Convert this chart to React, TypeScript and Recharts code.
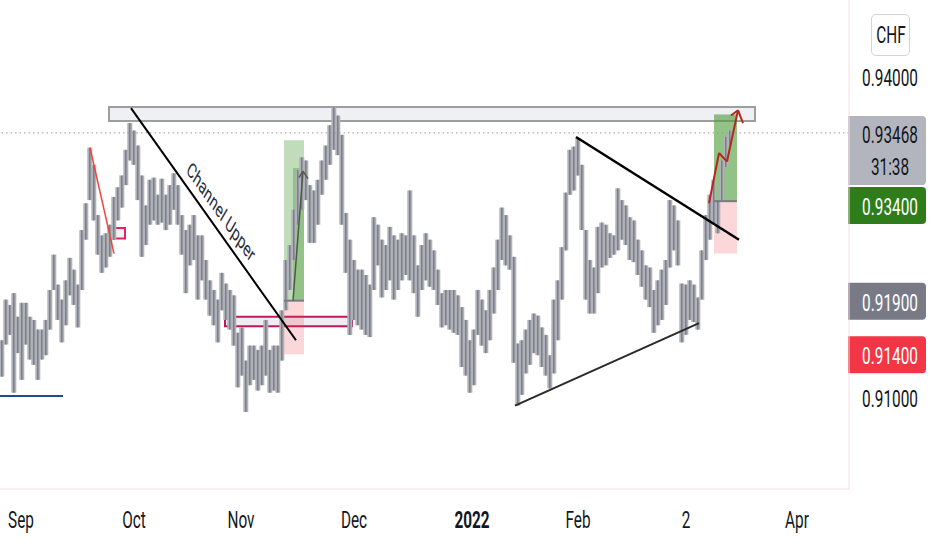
import React from "react";
import {
  ComposedChart,
  Bar,
  XAxis,
  YAxis,
  ReferenceLine,
  ReferenceArea,
  ReferenceDot,
} from "recharts";

// USD/CHF candles, one high/low bucket per ~4px column
const highs = [
  0.9153, 0.9191, 0.9186, 0.9197, 0.9175, 0.9188, 0.9188, 0.9175, 0.9172, 0.9163,
  0.9163, 0.9172, 0.92, 0.9233, 0.9205, 0.9191, 0.9209, 0.923, 0.9219, 0.9205,
  0.9256, 0.9281, 0.9333, 0.9317, 0.927, 0.9251, 0.9253, 0.9261, 0.9287, 0.9296,
  0.9307, 0.9331, 0.9356, 0.9349, 0.9335, 0.9307, 0.9279, 0.9303, 0.9305, 0.9289,
  0.9304, 0.9289, 0.9298, 0.9309, 0.9298, 0.927, 0.9256, 0.9261, 0.927, 0.9251,
  0.9251, 0.9228, 0.9209, 0.92, 0.9191, 0.9216, 0.9206, 0.92, 0.9195, 0.916,
  0.9165, 0.9134, 0.9148, 0.9148, 0.9144, 0.9148, 0.9172, 0.9144, 0.9148, 0.9148,
  0.9181, 0.9228, 0.9242, 0.9275, 0.9312, 0.9324, 0.9321, 0.9298, 0.9293, 0.9303,
  0.9321, 0.9335, 0.9354, 0.9371, 0.9363, 0.9345, 0.9272, 0.9247, 0.9228, 0.9219,
  0.9219, 0.9214, 0.9205, 0.9268, 0.9261, 0.9247, 0.9242, 0.9259, 0.9251, 0.9247,
  0.9253, 0.9251, 0.9293, 0.9251, 0.9223, 0.9242, 0.9253, 0.9247, 0.9237, 0.9219,
  0.9197, 0.92, 0.92, 0.92, 0.9195, 0.9184, 0.9172, 0.9153, 0.9163, 0.92,
  0.9191, 0.9181, 0.92, 0.9221, 0.9247, 0.9277, 0.927, 0.9251, 0.9231, 0.915,
  0.9153, 0.9163, 0.9172, 0.9178, 0.9176, 0.9165, 0.9158, 0.9139, 0.9191, 0.9209,
  0.924, 0.9291, 0.9331, 0.9334, 0.9342, 0.9317, 0.9256, 0.9228, 0.9221, 0.9259,
  0.9263, 0.9261, 0.9253, 0.9251, 0.9295, 0.9284, 0.9279, 0.9268, 0.9265, 0.9247,
  0.9237, 0.9223, 0.9221, 0.92, 0.9209, 0.9219, 0.9228, 0.9284, 0.9279, 0.9265,
  0.9206, 0.9205, 0.9209, 0.9205, 0.9193, 0.9237, 0.927, 0.9289, 0.9303, 0.9284,
  0.9321, 0.9343, 0.9349,
];
const lows = [
  0.9119, 0.9149, 0.9158, 0.9104, 0.9141, 0.9116, 0.9149, 0.9135, 0.913, 0.9116,
  0.9135, 0.9139, 0.9163, 0.92, 0.9172, 0.9151, 0.9167, 0.9195, 0.9186, 0.9165,
  0.92, 0.9247, 0.9284, 0.9265, 0.9233, 0.9216, 0.9221, 0.9231, 0.9247, 0.9265,
  0.9277, 0.9298, 0.9321, 0.9317, 0.9284, 0.9231, 0.9242, 0.9261, 0.9265, 0.9261,
  0.9263, 0.9256, 0.9261, 0.9275, 0.9261, 0.9233, 0.9197, 0.9223, 0.9228, 0.9191,
  0.9209, 0.9191, 0.9176, 0.9167, 0.9151, 0.9181, 0.9172, 0.9163, 0.9148, 0.9109,
  0.912, 0.9086, 0.9111, 0.9116, 0.9106, 0.9111, 0.912, 0.9104, 0.9106, 0.9104,
  0.9134, 0.9181, 0.92, 0.9228, 0.9261, 0.9275, 0.9284, 0.9244, 0.9244, 0.9261,
  0.9289, 0.9303, 0.9317, 0.9331, 0.9326, 0.9261, 0.9216, 0.9158, 0.9172, 0.9167,
  0.9163, 0.9158, 0.9156, 0.92, 0.9223, 0.9193, 0.92, 0.9209, 0.9191, 0.92,
  0.9209, 0.9214, 0.9209, 0.9197, 0.9175, 0.92, 0.9209, 0.9203, 0.92, 0.9186,
  0.9165, 0.9167, 0.9163, 0.916, 0.9158, 0.9128, 0.912, 0.9104, 0.9111, 0.9158,
  0.9148, 0.9141, 0.9153, 0.9178, 0.92, 0.9228, 0.9223, 0.9219, 0.9132, 0.9092,
  0.9102, 0.9122, 0.913, 0.9141, 0.9139, 0.9128, 0.912, 0.9108, 0.9122, 0.9153,
  0.9191, 0.9237, 0.9289, 0.9293, 0.9307, 0.9256, 0.9191, 0.9178, 0.9178, 0.9197,
  0.9221, 0.9223, 0.923, 0.9233, 0.9237, 0.9247, 0.9242, 0.9228, 0.9226, 0.9214,
  0.9203, 0.9191, 0.9184, 0.916, 0.9167, 0.9172, 0.9186, 0.9221, 0.9237, 0.9223,
  0.9151, 0.9158, 0.9172, 0.917, 0.9163, 0.9191, 0.9228, 0.9247, 0.9261, 0.9253,
  0.9284, 0.9315, 0.9335,
];

const tickPos = [4.75, 33, 59.75, 88, 117.5, 144, 171, 198.75];
const tickLabels = ["Sep", "Oct", "Nov", "Dec", "2022", "Feb", "2", "Apr"];
// 0.93000 / 0.92000 sit behind the price badges, so only these show
const priceTicks = [0.91, 0.94];

const lastPrice = 0.93468;
const countdown = "31:38";
const badgePrices = [0.934, 0.919, 0.914];
const badgeColors = ["#2f7d1a", "#787b86", "#f23645"];

// drawings, in (bar index, price)
const zone = [26.75, 188.25, 0.9358, 0.9371];
const channelLine = [32.25, 0.937, 73.5, 0.9153];
const channelText = [54.75, 0.9273];
const redLine = [22, 0.9333, 28, 0.9234];
const smallBox = [27, 30.75, 0.9248, 0.9258];
const blueLine = [-0.5, 15.25, 0.9101];
const demandBox = [55.75, 87.5, 0.9166, 0.9175];
const triTop = [143.5, 0.9343, 184.25, 0.9247];
const triBottom = [128.25, 0.9092, 174.25, 0.9169];
// long positions: x1, x2, stop, entry, target, filled-to
const longA = [70.5, 75.5, 0.914, 0.919, 0.934, 0.9314];
const longB = [178, 183.75, 0.9234, 0.9283, 0.9364, 0.9364];
const pathA = [[72.75, 0.919], [75.25, 0.9311]];
const headA = [[74.25, 0.9305], [75.25, 0.9311], [76.5, 0.9304]];
const pathB = [[176.75, 0.9281], [179.25, 0.9328], [181.25, 0.932], [184, 0.9368]];
const headB = [[182.25, 0.9363], [184, 0.9368], [185.25, 0.9356]];

const data = highs.map((h, i) => ({ i, range: [lows[i], h] }));

const W = 932;
const H = 550;
const PLOT_H = 489;
const Y_DOMAIN = [0.9014, 0.9471];
const PX_PER_PRICE = PLOT_H / (Y_DOMAIN[1] - Y_DOMAIN[0]);
const AXIS_X = 849;
const AXIS_COLOR = "#f9dde1";
const FONT = "Roboto, sans-serif";

function Txt({ x, y, children, weight = 400, fill = "#131722", size = 24 }: any) {
  return (
    <text
      transform={`translate(${x},${y}) scale(0.64,1)`}
      textAnchor="middle"
      fontFamily={FONT}
      fontSize={size}
      fontWeight={weight}
      fill={fill}
    >
      {children}
    </text>
  );
}

function DateTick(props: any) {
  const { x, payload } = props;
  const k = tickPos.findIndex((t) => Math.abs(t - payload.value) < 1e-6);
  const label = tickLabels[k] ?? "";
  return (
    <Txt x={x} y={528} weight={label === "2022" ? 700 : 400}>
      {label}
    </Txt>
  );
}

function PriceTick(props: any) {
  const { y, payload } = props;
  return <Txt x={890} y={y + 10}>{Number(payload.value).toFixed(5)}</Txt>;
}

// a dense bucket of candles: light band (overlapping its neighbours) with a darker wick
function CandleBucket(props: any) {
  const { x, y, width, height } = props;
  if (height == null || isNaN(y)) return null;
  const cx = x + width / 2;
  const h = Math.max(height, 1);
  return (
    <g>
      <rect x={cx - 2.5} y={y} width={5} height={h} fill="#aeb1b8" />
      <rect x={cx - 0.7} y={y} width={1.4} height={h} fill="#787b85" />
    </g>
  );
}

function badgePath(top: number, h: number) {
  const x = AXIS_X - 1;
  const w = 78;
  const r = 4;
  return `M${x},${top} H${x + w - r} Q${x + w},${top} ${x + w},${top + r} V${top + h - r} Q${x + w},${top + h} ${x + w - r},${top + h} H${x} Z`;
}

function LastBadge(props: any) {
  const vb = props.viewBox;
  if (!vb) return null;
  const y = vb.y;
  return (
    <g>
      <path d={badgePath(y - 17, 69)} fill="#b2b5be" />
      <Txt x={890} y={y + 10}>{lastPrice.toFixed(5)}</Txt>
      <Txt x={890} y={y + 42}>{countdown}</Txt>
    </g>
  );
}

function PriceBadge(props: any) {
  const { viewBox, price, color } = props;
  if (!viewBox) return null;
  const y = viewBox.y;
  // push below the last-price badge if they collide
  const yLast = y - (lastPrice - price) * PX_PER_PRICE;
  let top = y - 18;
  const lastTop = yLast - 17;
  const lastBottom = yLast + 52;
  if (top < lastBottom + 2 && top + 37 > lastTop) top = lastBottom + 2;
  return (
    <g>
      <path d={badgePath(top, 37)} fill={color} />
      <Txt x={890} y={top + 28} fill="#ffffff">
        {price.toFixed(5)}
      </Txt>
    </g>
  );
}

function seg(points: number[][], stroke: string, width: number, key: string) {
  return points.slice(1).map((p, k) => (
    <ReferenceLine
      key={`${key}${k}`}
      segment={[
        { x: points[k][0], y: points[k][1] },
        { x: p[0], y: p[1] },
      ]}
      stroke={stroke}
      strokeWidth={width}
      ifOverflow="visible"
    />
  ));
}

function longPosition(p: number[], fullFill: boolean, key: string) {
  const [x1, x2, stop, entry, target, filled] = p;
  return [
    <ReferenceArea key={`${key}g`} x1={x1} x2={x2} y1={entry} y2={target} fill="#4c9a3a" fillOpacity={0.35} stroke="none" ifOverflow="visible" />,
    <ReferenceArea key={`${key}f`} x1={fullFill ? x1 : x1 + (x2 - x1) * 0.45} x2={x2} y1={entry} y2={filled} fill="#4c9a3a" fillOpacity={0.4} stroke="none" ifOverflow="visible" />,
    <ReferenceArea key={`${key}r`} x1={x1} x2={x2} y1={stop} y2={entry} fill="#f23645" fillOpacity={0.2} stroke="none" ifOverflow="visible" />,
    <ReferenceLine key={`${key}e`} segment={[{ x: x1, y: entry }, { x: x2, y: entry }]} stroke="#787b86" strokeWidth={2} ifOverflow="visible" />,
  ];
}

export default function App() {
  return (
    <div style={{ position: "fixed", left: 0, top: 0, width: W, height: H, background: "#fff" }}>
      <ComposedChart width={W} height={H} data={data} margin={{ top: 0, right: 0, bottom: 0, left: 0 }}>
        <XAxis
          type="number"
          dataKey="i"
          domain={[-0.5, 211.75]}
          allowDataOverflow
          ticks={tickPos}
          interval={0}
          height={61}
          tick={<DateTick />}
          tickLine={false}
          axisLine={{ stroke: AXIS_COLOR }}
        />
        <YAxis
          orientation="right"
          type="number"
          domain={Y_DOMAIN}
          allowDataOverflow
          ticks={priceTicks}
          width={83}
          tick={<PriceTick />}
          tickLine={false}
          axisLine={{ stroke: AXIS_COLOR }}
        />

        <ReferenceArea x1={zone[0]} x2={zone[1]} y1={zone[2]} y2={zone[3]} fill="#d1d4dc" fillOpacity={0.35} stroke="#9e9e9e" strokeWidth={2} ifOverflow="visible" />
        <ReferenceArea x1={demandBox[0]} x2={demandBox[1]} y1={demandBox[2]} y2={demandBox[3]} fill="#d1d4dc" fillOpacity={0.4} stroke="#c2185b" strokeWidth={2} ifOverflow="visible" />
        <ReferenceArea x1={smallBox[0]} x2={smallBox[1]} y1={smallBox[2]} y2={smallBox[3]} fill="#d1d4dc" fillOpacity={0.3} stroke="#e91e63" strokeWidth={2} ifOverflow="visible" />
        {longPosition(longA, false, "la")}
        {longPosition(longB, true, "lb")}

        <Bar dataKey="range" barSize={4} shape={<CandleBucket />} isAnimationActive={false} />

        <ReferenceLine y={lastPrice} stroke="#9598a1" strokeDasharray="1.5 3" ifOverflow="visible" label={<LastBadge />} />
        {badgePrices.map((p, k) => (
          <ReferenceLine key={`b${k}`} y={p} stroke="none" ifOverflow="visible" label={<PriceBadge price={p} color={badgeColors[k]} />} />
        ))}

        {seg([[channelLine[0], channelLine[1]], [channelLine[2], channelLine[3]]], "#000000", 2, "ch")}
        {seg([[redLine[0], redLine[1]], [redLine[2], redLine[3]]], "#f0443a", 1.5, "rl")}
        {seg([[blueLine[0], blueLine[2]], [blueLine[1], blueLine[2]]], "#1e4e8c", 2, "bl")}
        {seg([[triTop[0], triTop[1]], [triTop[2], triTop[3]]], "#000000", 2.5, "tt")}
        {seg([[triBottom[0], triBottom[1]], [triBottom[2], triBottom[3]]], "#2a2a2a", 2, "tb")}
        {seg(pathA, "#4f5b4a", 1.5, "pa")}
        {seg(headA, "#4f5b4a", 1.5, "ha")}
        {seg(pathB, "#b22a1e", 2, "pb")}
        {seg(headB, "#b22a1e", 2, "hb")}

        <ReferenceDot
          x={channelText[0]}
          y={channelText[1]}
          r={0}
          ifOverflow="visible"
          shape={(p: any) => (
            <text
              transform={`translate(${p.cx},${p.cy}) scale(0.64,1) rotate(42)`}
              textAnchor="middle"
              dominantBaseline="central"
              fontFamily={FONT}
              fontSize={21}
              fill="#2a2e39"
            >
              Channel Upper
            </text>
          )}
        />
      </ComposedChart>
      <div
        style={{
          position: "absolute",
          left: 871,
          top: 14,
          width: 37,
          height: 40,
          border: "1px solid #d1d4dc",
          borderRadius: 5,
          background: "#fff",
          display: "flex",
          alignItems: "center",
          justifyContent: "center",
          fontFamily: FONT,
          fontSize: 24,
          color: "#131722",
        }}
      >
        <span style={{ display: "inline-block", transform: "scale(0.64,1)" }}>CHF</span>
      </div>
    </div>
  );
}
